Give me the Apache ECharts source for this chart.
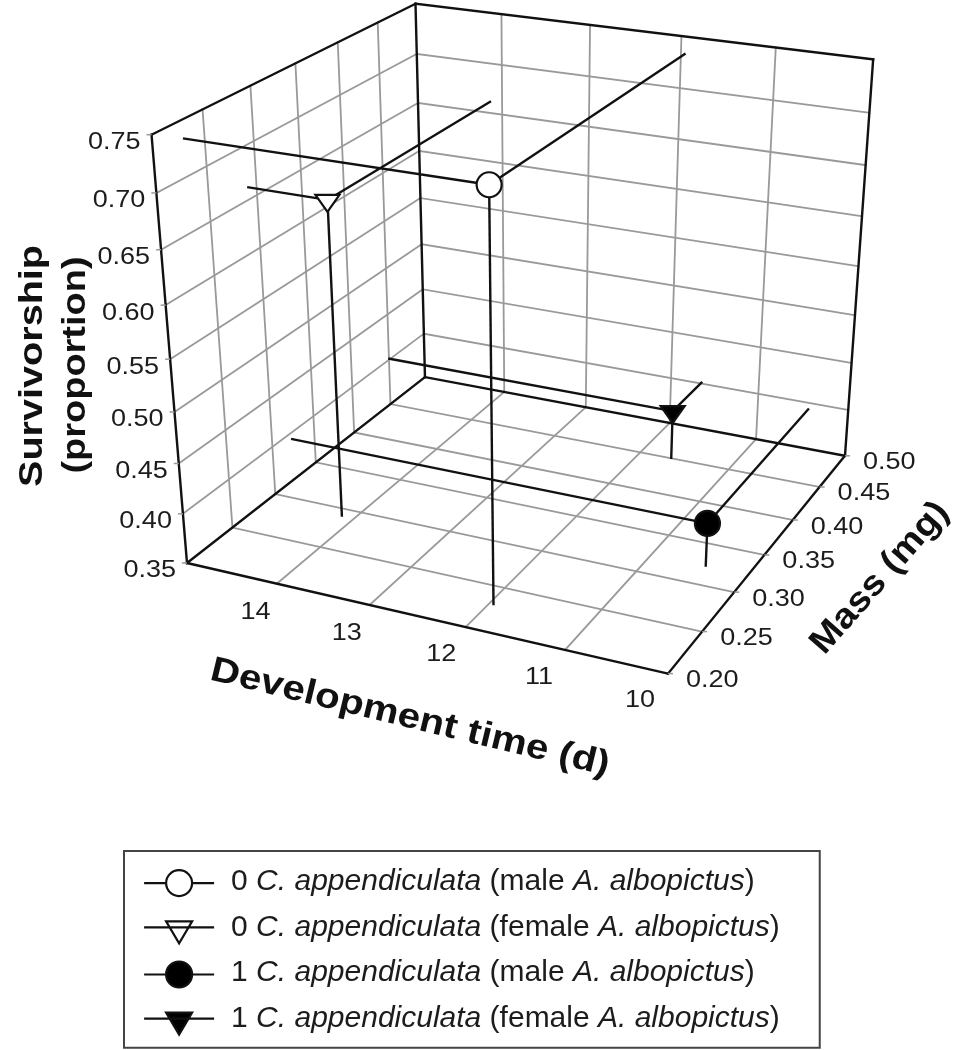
<!DOCTYPE html>
<html>
<head>
<meta charset="utf-8">
<title>Survivorship, mass and development time</title>
<script src="https://cdn.jsdelivr.net/npm/echarts@6/dist/echarts.min.js"></script>
<style>
	html, body { margin: 0; padding: 0; background: #fff; }
	#chart { width: 955px; height: 1050px; }
</style>
</head>
<body>
<div id="chart"></div>
<script>
// values
var treatments = [
	'0 C. appendiculata (male A. albopictus)',
	'0 C. appendiculata (female A. albopictus)',
	'1 C. appendiculata (male A. albopictus)',
	'1 C. appendiculata (female A. albopictus)'
];
var devTime = [11.45, 13.63, 9.93, 11.14];
var massMg = [0.229, 0.290, 0.322, 0.449];
var survivorship = [0.734, 0.662, 0.394, 0.402];

var devLabels = [14, 13, 12, 11, 10];
var devGridLines = [13.5, 12.5, 11.5, 10.5];
var massLabels = [0.20, 0.25, 0.30, 0.35, 0.40, 0.45, 0.50];
var massGridLines = [0.25, 0.30, 0.35, 0.40, 0.45];
var survLabels = [0.35, 0.40, 0.45, 0.50, 0.55, 0.60, 0.65, 0.70, 0.75];
var survGridLines = [0.40, 0.45, 0.50, 0.55, 0.60, 0.65, 0.70];

var devRange = [14.5, 9.5];
var massRange = [0.20, 0.50];
var survRange = [0.35, 0.75];

// perspective box: image of the near floor corner, vanishing points, weights
var cam = {
	origin: [187, 563],
	vpDev: [-5217, -680],
	vpMass: [1750, -658],
	vpSurv: [537, 4790],
	a: -0.08173,
	b: 0.1796,
	c: -0.092
};

function project(dev, mass, surv) {
	var u = cam.a * (dev - devRange[0]) / (devRange[1] - devRange[0]);
	var v = cam.b * (mass - massRange[0]) / (massRange[1] - massRange[0]);
	var w = cam.c * (surv - survRange[0]) / (survRange[1] - survRange[0]);
	var d = 1 + u + v + w;
	return [
		(cam.origin[0] + u * cam.vpDev[0] + v * cam.vpMass[0] + w * cam.vpSurv[0]) / d,
		(cam.origin[1] + u * cam.vpDev[1] + v * cam.vpMass[1] + w * cam.vpSurv[1]) / d
	];
}

var FONT = '"Liberation Sans", Arial, sans-serif';
var GRID_COLOR = '#999';
var devA = devRange[0], devB = devRange[1];
var massA = massRange[0], massB = massRange[1];
var survA = survRange[0], survB = survRange[1];

// grey grid first, black box edges on top of it
var segments = [];
function seg(p, q, stroke, width) {
	segments.push({ p: p, q: q, stroke: stroke, width: width });
}
survGridLines.forEach(function (s) {
	seg([devA, massA, s], [devA, massB, s], GRID_COLOR, 1.8);
	seg([devA, massB, s], [devB, massB, s], GRID_COLOR, 1.8);
});
massGridLines.forEach(function (m) {
	seg([devA, m, survA], [devA, m, survB], GRID_COLOR, 1.8);
	seg([devA, m, survA], [devB, m, survA], GRID_COLOR, 1.8);
});
devGridLines.forEach(function (t) {
	seg([t, massB, survA], [t, massB, survB], GRID_COLOR, 1.8);
	seg([t, massA, survA], [t, massB, survA], GRID_COLOR, 1.8);
});
[
	[[devA, massA, survA], [devB, massA, survA]],
	[[devB, massA, survA], [devB, massB, survA]],
	[[devA, massA, survA], [devA, massB, survA]],
	[[devA, massB, survA], [devB, massB, survA]],
	[[devA, massA, survA], [devA, massA, survB]],
	[[devA, massB, survA], [devA, massB, survB]],
	[[devB, massB, survA], [devB, massB, survB]],
	[[devA, massA, survB], [devA, massB, survB]],
	[[devA, massB, survB], [devB, massB, survB]]
].forEach(function (e) {
	seg(e[0], e[1], '#111', 2.4);
});

var tickTexts = [];
devLabels.forEach(function (t) {
	tickTexts.push({ at: [t, massA, survA], dx: 24, dy: 39, align: 'center', text: String(t), stub: 0 });
});
massLabels.forEach(function (m) {
	tickTexts.push({ at: [devB, m, survA], dx: 18, dy: 7, align: 'left', text: m.toFixed(2), stub: 5 });
});
survLabels.forEach(function (s) {
	tickTexts.push({ at: [devA, massA, s], dx: -11, dy: 8, align: 'right', text: s.toFixed(2), stub: -5 });
});

function renderSegment(params, api) {
	var s = segments[params.dataIndex];
	var p = api.coord(project(s.p[0], s.p[1], s.p[2]));
	var q = api.coord(project(s.q[0], s.q[1], s.q[2]));
	return {
		type: 'line',
		shape: { x1: p[0], y1: p[1], x2: q[0], y2: q[1] },
		style: { stroke: s.stroke, lineWidth: s.width, lineCap: 'square' }
	};
}

function renderTick(params, api) {
	var t = tickTexts[params.dataIndex];
	var p = api.coord(project(t.at[0], t.at[1], t.at[2]));
	var children = [{
		type: 'text',
		x: p[0] + t.dx,
		y: p[1] + t.dy,
		scaleX: 1.15,
		style: {
			text: t.text,
			font: '23.5px ' + FONT,
			fill: '#1c1c1c',
			align: t.align,
			verticalAlign: 'middle'
		}
	}];
	if (t.stub) {
		children.push({
			type: 'line',
			shape: { x1: p[0], y1: p[1], x2: p[0] + t.stub, y2: p[1] },
			style: { stroke: GRID_COLOR, lineWidth: 1.5 }
		});
	}
	return { type: 'group', children: children };
}

// marker with its drop lines to the left wall, back wall and floor
function pointRenderer(shape, fill) {
	return function (params, api) {
		var dev = api.value(0), mass = api.value(1), surv = api.value(2);
		var c = api.coord(project(dev, mass, surv));
		var ends = [
			project(devA, mass, surv),
			project(dev, massB, surv),
			project(dev, mass, survA)
		];
		var children = ends.map(function (e) {
			var q = api.coord(e);
			return {
				type: 'line',
				shape: { x1: c[0], y1: c[1], x2: q[0], y2: q[1] },
				style: { stroke: '#111', lineWidth: 2.4 }
			};
		});
		var markStyle = { fill: fill, stroke: '#111', lineWidth: 2.2 };
		if (shape === 'circle') {
			children.push({ type: 'circle', shape: { cx: c[0], cy: c[1], r: 12.5 }, style: markStyle });
		} else {
			children.push({
				type: 'polygon',
				shape: { points: [[c[0] - 12, c[1] - 5], [c[0] + 12, c[1] - 5], [c[0], c[1] + 12]] },
				style: markStyle
			});
		}
		return { type: 'group', children: children };
	};
}

var circleIcon = 'path://M0 0M0 16H22M22 16A13 13 0 1 1 48 16A13 13 0 1 1 22 16ZM48 16H70';
var triangleIcon = 'path://M0 0M0 16H70M22 10H48L35 32Z';

var markShapes = ['circle', 'triangle', 'circle', 'triangle'];
var markFills = ['#fff', '#fff', '#000', '#000'];

var series = [
	{
		type: 'custom',
		silent: true,
		clip: false,
		renderItem: renderSegment,
		data: segments.map(function (s, i) { return [i, 0]; })
	},
	{
		type: 'custom',
		silent: true,
		clip: false,
		renderItem: renderTick,
		data: tickTexts.map(function (s, i) { return [i, 0]; })
	}
];
treatments.forEach(function (name, i) {
	series.push({
		name: name,
		type: 'custom',
		clip: false,
		z: 5,
		itemStyle: { color: markFills[i] },
		renderItem: pointRenderer(markShapes[i], markFills[i]),
		data: [[devTime[i], massMg[i], survivorship[i]]]
	});
});

var myChart = echarts.init(document.getElementById('chart'), null, { renderer: 'canvas' });
myChart.setOption({
	animation: false,
	backgroundColor: '#fff',
	tooltip: { show: false },
	grid: { left: 0, right: 0, top: 0, bottom: 0 },
	xAxis: { type: 'value', min: 0, max: 955, show: false },
	yAxis: { type: 'value', min: 0, max: 1050, inverse: true, show: false },
	legend: {
		orient: 'vertical',
		left: 124,
		top: 851,
		height: 300,
		padding: [15, 40, 12, 19],
		backgroundColor: '#fff',
		borderColor: '#444',
		borderWidth: 2,
		itemWidth: 70,
		itemHeight: 32,
		itemGap: 13,
		selectedMode: false,
		textStyle: {
			fontFamily: FONT,
			fontSize: 30,
			color: '#1c1c1c',
			rich: {
				s: { width: 12 },
				i: { fontFamily: FONT, fontSize: 30, fontStyle: 'italic', color: '#1c1c1c' }
			}
		},
		formatter: function (name) {
			return '{s| }' + name.replace('C. appendiculata', '{i|C. appendiculata}')
				.replace('A. albopictus', '{i|A. albopictus}');
		},
		data: treatments.map(function (name, i) {
			return {
				name: name,
				icon: markShapes[i] === 'circle' ? circleIcon : triangleIcon,
				itemStyle: { color: markFills[i], borderColor: '#111', borderWidth: 2.2 }
			};
		})
	},
	graphic: [
		{ type: 'text', x: 410, y: 718, rotation: -13.6 * Math.PI / 180, scaleX: 1.15,
			style: { text: 'Development time (d)', font: 'bold 35px ' + FONT, fill: '#111', align: 'center', verticalAlign: 'middle' } },
		{ type: 'text', x: 880, y: 578, rotation: 48.6 * Math.PI / 180, scaleX: 1.1,
			style: { text: 'Mass (mg)', font: 'bold 35px ' + FONT, fill: '#111', align: 'center', verticalAlign: 'middle' } },
		{ type: 'text', x: 33, y: 366, rotation: Math.PI / 2, scaleX: 1.2,
			style: { text: 'Survivorship', font: 'bold 33px ' + FONT, fill: '#111', align: 'center', verticalAlign: 'middle' } },
		{ type: 'text', x: 76, y: 365, rotation: Math.PI / 2, scaleX: 1.15,
			style: { text: '(proportion)', font: 'bold 33px ' + FONT, fill: '#111', align: 'center', verticalAlign: 'middle' } }
	],
	series: series
});
window.onresize = myChart.resize;
</script>
</body>
</html>
